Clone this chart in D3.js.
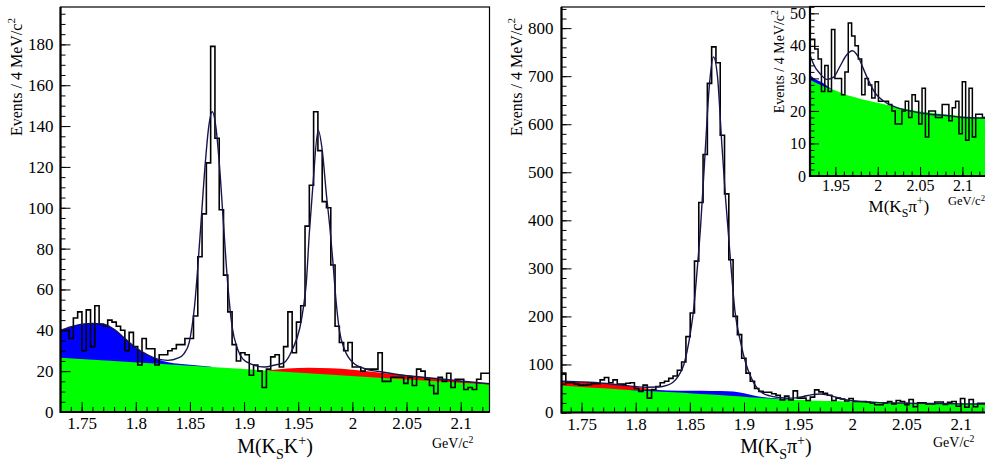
<!DOCTYPE html>
<html>
<head>
<meta charset="utf-8">
<script src="https://cdn.jsdelivr.net/npm/d3@7"></script>
<style>
body { margin: 0; background: #fff; }
text { font-family: "Liberation Serif", "Times New Roman", serif; fill: #000; }
</style>
</head>
<body>
<svg id="chart" width="985" height="463"></svg>
<script>
// ---- data ----
// M(KsK+) : events per bin
var leftCounts = [40,40,36,46,49,30,50,32,52,43,
  42,45,44,42,40,30,39,32,23,36,
  31,31,23,28,28,30,31,33,33,36,
  36,47,76,97,122,179,134,99,67,49,
  33,25,29,28,18,23,20,12,21,27,
  28,22,32,49,29,44,52,91,111,147,
  128,103,100,72,42,34,30,34,22,22,
  20,21,21,21,29,15,15,17,17,17,
  14,17,13,21,20,16,13,9,17,15,
  19,12,16,16,11,12,11,16,19,19];
// M(Ks pi+) : events per bin (the inset shows the same histogram)
var rightCounts = [82,62,62,59,57,57,58,60,60,68,
  73,62,68,59,59,61,62,50,44,57,
  30,48,54,62,65,71,76,88,105,158,
  207,315,437,537,685,761,728,577,455,318,
  200,162,113,82,65,50,44,42,42,39,
  36,26,34,26,45,30,30,25,32,47,
  43,40,36,25,30,28,24,29,23,23,
  23,22,20,16,16,20,23,18,25,23,
  16,27,12,20,20,18,18,22,22,17,
  21,23,13,29,11,27,12,19,19,18];
var leftHistRange = [1.7305, 2.1266];
var rightHistRange = [1.7315, 2.1276];

// fit curves [mass, events]; component tops are cumulative
var leftFit = [[1.7305,40],[1.7405,41.8],[1.7502,43],[1.7602,43.4],[1.7701,43],[1.78,40.5],
  [1.7899,36],[1.7998,31.5],[1.8097,28.3],[1.8196,26],[1.8295,25.3],[1.8394,26.5],[1.8444,28.5],
  [1.8493,34],[1.8543,52],[1.8592,85],[1.8642,122],[1.8672,139],[1.8706,147],[1.8741,139],
  [1.8771,122],[1.881,92],[1.885,62],[1.8889,42],[1.8939,31],[1.8988,26],[1.9087,23],
  [1.9187,22],[1.9286,23],[1.9366,24],[1.9445,30.5],[1.9514,41],[1.955,52],[1.9574,63],
  [1.9603,88],[1.9637,112],[1.9684,138],[1.9722,128],[1.9761,106],[1.9791,91],[1.9821,73],
  [1.985,54],[1.988,40],[1.9929,30.5],[2.0009,24],[2.0127,21],[2.0276,19.6],[2.0474,18],
  [2.067,16.9],[2.087,15.9],[2.107,14.8],[2.1266,13.8]];
var leftGreen = [[1.7305,26.6],[1.93,20.0],[2.1266,13.5]];
var leftBlue = [[1.7305,40],[1.74,41.8],[1.75,43],[1.76,43.4],[1.77,43],[1.78,40.5],[1.79,36],
  [1.80,31.5],[1.81,28.2],[1.82,25.8],[1.83,24.4],[1.84,23.6],[1.85,23.1],[1.86,22.6],[1.87,22.2]];
var leftRed = [[1.92,20.3],[1.94,21.3],[1.96,21.7],[1.98,21.4],[2.00,20.7],[2.02,19.6],
  [2.05,18.0],[2.085,16.0],[2.1266,13.7]];

var rightFit = [[1.7315,65],[1.75,63.5],[1.77,61],[1.79,56.5],[1.80,54],[1.81,52.7],[1.82,53],
  [1.8295,57],[1.8345,63],[1.8395,76],[1.8445,100],[1.8475,128],[1.8505,165],[1.8535,215],
  [1.8565,290],[1.86,390],[1.864,537],[1.868,680],[1.8718,740],[1.8755,700],[1.8795,560],
  [1.883,445],[1.8877,312],[1.8917,210],[1.8967,148],[1.9017,102],[1.9067,72],[1.9117,52],
  [1.9167,41],[1.924,34.5],[1.932,31.4],[1.94,29.7],[1.948,30.4],[1.955,33.5],[1.963,37.1],
  [1.97,38.5],[1.977,36.6],[1.983,33],[1.989,29.4],[1.997,25.5],[2.006,23.2],[2.022,21.1],
  [2.042,19.8],[2.061,19.0],[2.081,18.6],[2.101,18.0],[2.1276,17.8]];
var rightGreen = [[1.7315,56],[1.75,53.3],[1.77,50.3],[1.79,47.6],[1.81,45],[1.83,42.5],
  [1.85,40.1],[1.87,37.3],[1.89,34.4],[1.90,33.0],[1.91,31.3],[1.92,29.6],[1.93,28.3],
  [1.94,27.1],[1.95,26.3],[1.96,25.2],[1.97,24.4],[1.98,23.7],[2.00,22.5],[2.02,21.3],
  [2.04,20.3],[2.06,19.5],[2.08,18.9],[2.10,18.4],[2.1276,18]];
var rightRed = [[1.7315,64.5],[1.75,63],[1.77,60.5],[1.79,56],[1.80,53.2],[1.81,50.2],
  [1.82,47.2],[1.83,44],[1.84,41.3]];
var rightBlue = [[1.795,47],[1.81,46.8],[1.83,45.8],[1.85,45.3],[1.87,44.9],[1.885,44.3],
  [1.895,42.2],[1.905,37.3],[1.915,32.6],[1.925,30.0],[1.935,28.7],[1.945,26.8]];

var massTicks = [1.75, 1.8, 1.85, 1.9, 1.95, 2, 2.05, 2.1];
var leftYTicks = [0, 20, 40, 60, 80, 100, 120, 140, 160, 180];
var rightYTicks = [0, 100, 200, 300, 400, 500, 600, 700, 800];
var insetXTicks = [1.95, 2, 2.05, 2.1];
var insetYTicks = [0, 10, 20, 30, 40, 50];

var svg = d3.select("#chart");
svg.append("rect").attr("width", 985).attr("height", 463).attr("fill", "#fff");
var fmt = d3.format("~g");
var serif = "'Liberation Serif','Times New Roman',serif";

function drawPanel(c) {
  var x = d3.scaleLinear().domain(c.xDomain).range([c.left, c.right]);
  var y = d3.scaleLinear().domain(c.yDomain).range([c.bottom, c.top]);
  var g = svg.append("g");
  if (c.white) {
    g.append("rect").attr("x", c.left).attr("y", c.top)
      .attr("width", c.right - c.left).attr("height", c.bottom - c.top).attr("fill", "#fff");
  }
  svg.append("clipPath").attr("id", "clip-" + c.name).append("rect")
    .attr("x", c.left).attr("y", c.top).attr("width", c.right - c.left).attr("height", c.bottom - c.top);
  var body = g.append("g").attr("clip-path", "url(#clip-" + c.name + ")");

  var area = d3.area().x(function(d){ return x(d[0]); }).y0(y(0))
    .y1(function(d){ return y(d[1]); }).curve(d3.curveMonotoneX);
  [[c.red, "#ff0000"], [c.blue, "#0000ff"], [c.green, "#00ff00"]].forEach(function(p){
    body.append("path").datum(p[0]).attr("d", area).attr("fill", p[1]);
  });

  var w = (c.histRange[1] - c.histRange[0]) / c.counts.length;
  var steps = c.counts.map(function(v, i){ return [c.histRange[0] + i * w, v]; });
  steps.push([c.histRange[1], c.counts[c.counts.length - 1]]);
  body.append("path").datum(steps)
    .attr("d", d3.line().x(function(d){ return x(d[0]); }).y(function(d){ return y(d[1]); }).curve(d3.curveStepAfter))
    .attr("fill", "none").attr("stroke", "#000").attr("stroke-width", c.histWidth);

  body.append("path").datum(c.fit)
    .attr("d", d3.line().x(function(d){ return x(d[0]); }).y(function(d){ return y(d[1]); }).curve(d3.curveMonotoneX))
    .attr("fill", "none").attr("stroke", "#16164f").attr("stroke-width", 1.4);

  // axes, ticks pointing inwards
  var xMinor = d3.range(c.xDomain[0], c.xDomain[1], 0.01).map(function(v){ return Math.round(v * 100) / 100; })
    .filter(function(v){ return v > c.xDomain[0] && v < c.xDomain[1]; });
  var yMinor = d3.range(0, c.yDomain[1], c.yMinorStep);
  var ax = g.append("g").attr("transform", "translate(0," + c.bottom + ")");
  ax.append("g").call(d3.axisBottom(x).tickValues(xMinor).tickSize(-c.minorLen).tickFormat(""));
  ax.append("g").call(d3.axisBottom(x).tickValues(c.xTicks).tickSizeInner(-c.majorLen).tickSizeOuter(0)
    .tickPadding(c.xPad).tickFormat(fmt));
  var ay = g.append("g").attr("transform", "translate(" + c.left + ",0)");
  ay.append("g").call(d3.axisLeft(y).tickValues(yMinor).tickSize(-c.minorLen).tickFormat(""));
  ay.append("g").call(d3.axisLeft(y).tickValues(c.yTicks).tickSizeInner(-c.majorLen).tickSizeOuter(0)
    .tickPadding(c.yPad).tickFormat(fmt));
  g.selectAll(".domain").remove();
  g.selectAll("g").attr("font-family", serif);
  g.selectAll(".tick line").attr("stroke", "#000").attr("stroke-width", 1);
  g.selectAll(".tick text").style("font-size", c.labelSize + "px").style("font-family", serif);

  g.append("rect").attr("x", c.left).attr("y", c.top).attr("width", c.right - c.left)
    .attr("height", c.bottom - c.top).attr("fill", "none").attr("stroke", "#000").attr("stroke-width", 1.2);
  g.append("line").attr("x1", c.left).attr("x2", c.left).attr("y1", c.top).attr("y2", c.bottom + 1)
    .attr("stroke", "#000").attr("stroke-width", 2.2);
  g.append("line").attr("x1", c.left).attr("x2", c.right).attr("y1", c.bottom).attr("y2", c.bottom)
    .attr("stroke", "#000").attr("stroke-width", 2);

  // y title
  var fs = c.yTitleSize;
  var yt = g.append("text").attr("transform", "translate(" + c.yTitlePos[0] + "," + c.yTitlePos[1] + ") rotate(-90)")
    .attr("text-anchor", "end").style("font-size", fs + "px");
  yt.append("tspan").text("Events / 4 MeV/c");
  yt.append("tspan").attr("dy", -fs * 0.42).style("font-size", fs * 0.7 + "px").text("2");

  // x title
  var ts = c.xTitleSize;
  var xt = g.append("text").attr("x", (c.left + c.right) / 2).attr("y", c.xTitleY)
    .attr("text-anchor", "middle").style("font-size", ts + "px");
  xt.append("tspan").text("M(K");
  xt.append("tspan").attr("dy", ts * 0.28).style("font-size", ts * 0.7 + "px").text("S");
  xt.append("tspan").attr("dy", -ts * 0.28).text(c.partner);
  xt.append("tspan").attr("dy", -ts * 0.4).style("font-size", ts * 0.7 + "px").text("+");
  xt.append("tspan").attr("dy", ts * 0.4).text(")");

  // unit
  var us = c.unitSize;
  var ut = g.append("text").attr("x", c.unitPos[0]).attr("y", c.unitPos[1])
    .attr("text-anchor", "start").style("font-size", us + "px");
  ut.append("tspan").text("GeV/c");
  ut.append("tspan").attr("dy", -us * 0.35).style("font-size", us * 0.7 + "px").text("2");
}

drawPanel({
  name: "left", left: 60.5, right: 489.5, top: 7, bottom: 412,
  xDomain: [1.7305, 2.1266], yDomain: [0, 198.3],
  counts: leftCounts, histRange: leftHistRange, fit: leftFit,
  green: leftGreen, blue: leftBlue, red: leftRed, histWidth: 1.6,
  xTicks: massTicks, yTicks: leftYTicks, yMinorStep: 5,
  majorLen: 10, minorLen: 5, xPad: 5, yPad: 7, labelSize: 17,
  yTitlePos: [21.5, 18], yTitleSize: 16,
  xTitleY: 453, xTitleSize: 20, partner: "K",
  unitPos: [432, 447.5], unitSize: 14
});

drawPanel({
  name: "right", left: 561.5, right: 990.5, top: 7, bottom: 412.5,
  xDomain: [1.7315, 2.1276], yDomain: [0, 844],
  counts: rightCounts, histRange: rightHistRange, fit: rightFit,
  green: rightGreen, blue: rightBlue, red: rightRed, histWidth: 1.6,
  xTicks: massTicks, yTicks: rightYTicks, yMinorStep: 20,
  majorLen: 10, minorLen: 5, xPad: 5, yPad: 8, labelSize: 17,
  yTitlePos: [522, 18], yTitleSize: 16,
  xTitleY: 453, xTitleSize: 20, partner: "\u03c0",
  unitPos: [933, 447], unitSize: 14
});

drawPanel({
  name: "inset", white: true, left: 810, right: 987.8, top: 6.5, bottom: 176,
  xDomain: [1.92, 2.13], yDomain: [0, 52.1],
  counts: rightCounts, histRange: rightHistRange, fit: rightFit,
  green: rightGreen, blue: rightBlue, red: rightRed, histWidth: 1.5,
  xTicks: insetXTicks, yTicks: insetYTicks, yMinorStep: 2,
  majorLen: 9, minorLen: 4.5, xPad: 4, yPad: 4, labelSize: 16,
  yTitlePos: [784, 10], yTitleSize: 14,
  xTitleY: 212, xTitleSize: 17, partner: "\u03c0",
  unitPos: [948, 205], unitSize: 12.5
});
</script>
</body>
</html>
